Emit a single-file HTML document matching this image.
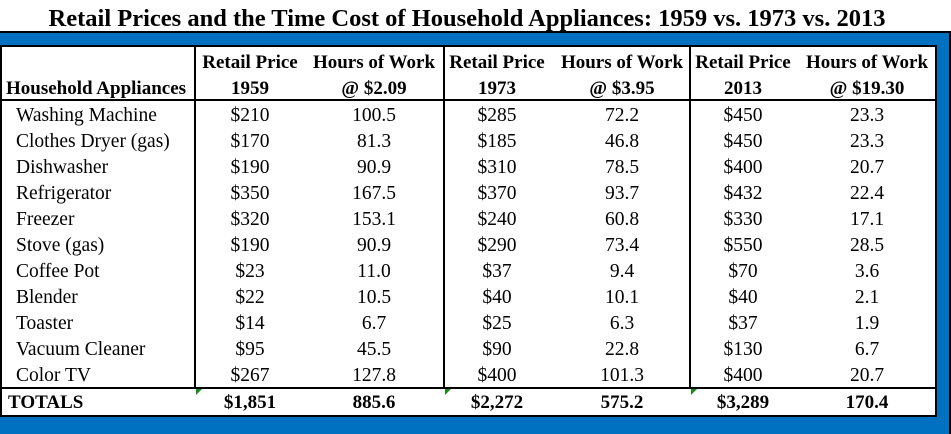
<!DOCTYPE html>
<html><head><meta charset="utf-8"><style>
*{margin:0;padding:0;box-sizing:border-box}
body{width:951px;height:434px;background:#fff;position:relative;overflow:hidden;font-family:"Liberation Serif",serif;color:#000}
.a{position:absolute}
.t{position:absolute;white-space:nowrap;font-size:19.5px;line-height:20px}
.c{transform:translateX(-50%)}
.b{font-weight:bold;font-size:19px}
.tri{position:absolute;width:0;height:0;border-top:6px solid #1a8a1a;border-right:6px solid transparent}
</style></head><body>
<div class="t b c" style="left:467px;top:6px;font-size:24.5px;line-height:26px">Retail Prices and the Time Cost of Household Appliances: 1959 vs. 1973 vs. 2013</div>
<div class="a" style="left:0;top:31px;width:951px;height:403px;background:#0070C0;border-top:2px solid #000;border-right:2px solid #000"></div>
<div class="a" style="left:0;top:45px;width:937px;height:372px;background:#fff;border:2px solid #000;border-left-width:2px"></div>
<div class="a" style="left:0;top:99px;width:937px;height:2px;background:#000"></div>
<div class="a" style="left:0;top:387px;width:937px;height:2px;background:#000"></div>
<div class="a" style="left:194px;top:45px;width:2px;height:344px;background:#000"></div>
<div class="a" style="left:443px;top:45px;width:2px;height:344px;background:#000"></div>
<div class="a" style="left:689px;top:45px;width:2px;height:344px;background:#000"></div>
<div class="tri" style="left:196px;top:389px"></div>
<div class="tri" style="left:445px;top:389px"></div>
<div class="tri" style="left:691px;top:389px"></div>
<div id="g"></div>
<script>
var h='';
function T(x,y,s,cls,al){h+='<div class="t '+(cls||'')+(al?'':' c')+'" style="left:'+x+'px;top:'+y+'px">'+s+'</div>';}
var cx=[250,374,497,622,743,867];
T(6,79,'Household Appliances','b',1);
var h1=['Retail Price','Hours of Work','Retail Price','Hours of Work','Retail Price','Hours of Work'];
var h2=['1959','@ $2.09','1973','@ $3.95','2013','@ $19.30'];
for(var i=0;i<6;i++){T(cx[i],53,h1[i],'b');T(cx[i],79,h2[i],'b');}
var rows=[
['Washing Machine','$210','100.5','$285','72.2','$450','23.3'],
['Clothes Dryer (gas)','$170','81.3','$185','46.8','$450','23.3'],
['Dishwasher','$190','90.9','$310','78.5','$400','20.7'],
['Refrigerator','$350','167.5','$370','93.7','$432','22.4'],
['Freezer','$320','153.1','$240','60.8','$330','17.1'],
['Stove (gas)','$190','90.9','$290','73.4','$550','28.5'],
['Coffee Pot','$23','11.0','$37','9.4','$70','3.6'],
['Blender','$22','10.5','$40','10.1','$40','2.1'],
['Toaster','$14','6.7','$25','6.3','$37','1.9'],
['Vacuum Cleaner','$95','45.5','$90','22.8','$130','6.7'],
['Color TV','$267','127.8','$400','101.3','$400','20.7']];
for(var r=0;r<rows.length;r++){var y=106+r*26;T(16,y,rows[r][0],'',1);for(var i=0;i<6;i++)T(cx[i],y,rows[r][i+1]);}
var tt=['$1,851','885.6','$2,272','575.2','$3,289','170.4'];
T(8,393,'TOTALS','b',1);for(var i=0;i<6;i++)T(cx[i],393,tt[i],'b');
document.getElementById('g').innerHTML=h;
</script>
</body></html>
